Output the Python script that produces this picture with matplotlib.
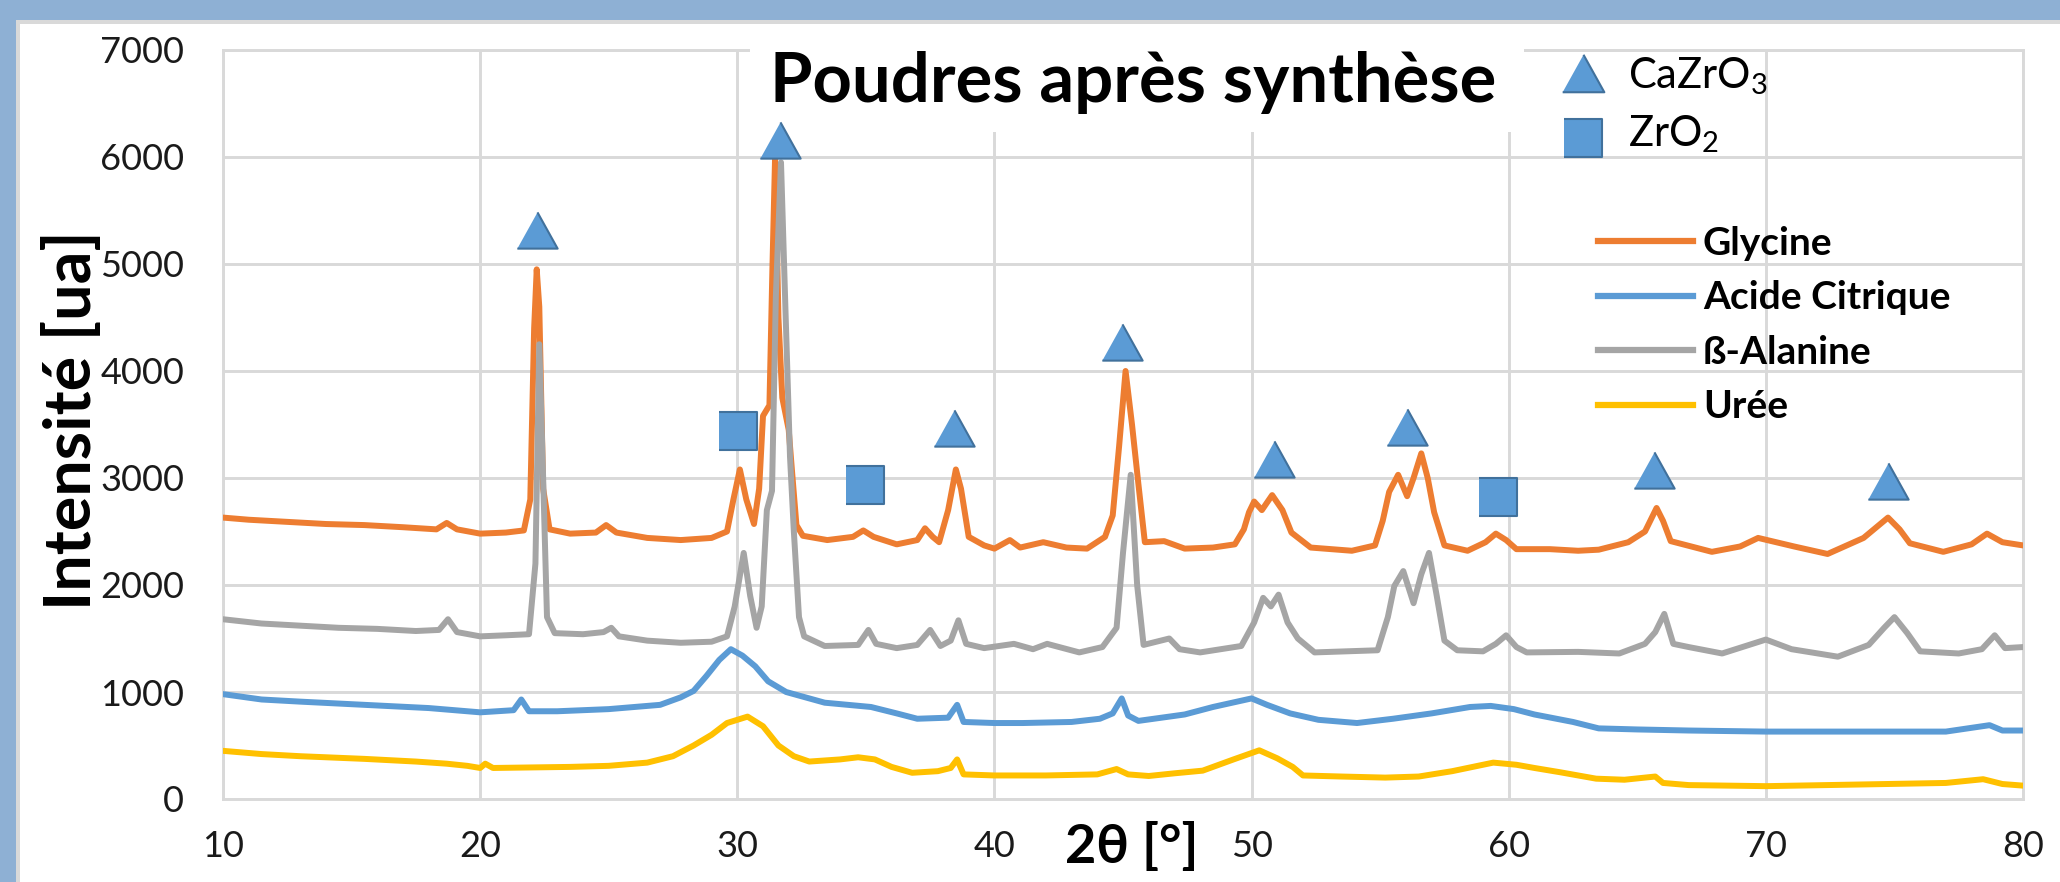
import matplotlib
matplotlib.use("Agg")
import matplotlib.pyplot as plt
from matplotlib.patches import Rectangle

plt.rcParams['font.family'] = ['Lato', 'DejaVu Sans']
plt.rcParams['mathtext.fontset'] = 'custom'
plt.rcParams['mathtext.rm'] = 'Lato'
plt.rcParams['mathtext.it'] = 'Lato:italic'
plt.rcParams['mathtext.bf'] = 'Lato:bold'

# ---------------- data ----------------
glycine_x = [10.0, 11.0, 12.5, 14.0, 15.5, 17.0, 18.3, 18.7, 19.1, 20.0, 21.0, 21.7, 21.95, 22.1, 22.2,
             22.3, 22.45, 22.7, 23.5, 24.5, 24.9, 25.3, 26.5, 27.8, 29.0, 29.6, 29.85, 30.1, 30.35,
             30.65, 30.85, 31.0, 31.25, 31.37, 31.47, 31.6, 31.75, 32.0, 32.15, 32.3, 32.55, 33.5,
             34.5, 34.9, 35.3, 36.2, 37.0, 37.3, 37.6, 37.85, 38.2, 38.5, 38.7, 39.0, 39.6, 40.0,
             40.6, 41.0, 41.9, 42.8, 43.6, 44.3, 44.6, 44.85, 45.1, 45.35, 45.6, 45.85, 46.6, 47.4,
             48.5, 49.35, 49.7, 49.9, 50.1, 50.4, 50.8, 51.2, 51.55, 52.3, 53.9, 54.8, 55.1, 55.35,
             55.7, 56.05, 56.3, 56.6, 56.85, 57.1, 57.5, 58.4, 59.1, 59.5, 59.9, 60.3, 61.6, 62.7,
             63.5, 64.65, 65.3, 65.75, 66.0, 66.3, 67.9, 69.0, 69.7, 71.1, 72.4, 73.8, 74.4, 74.75,
             75.2, 75.6, 76.9, 78.0, 78.6, 79.2, 80.0]
glycine_y = [2630, 2610, 2590, 2570, 2560, 2540, 2520, 2580, 2520, 2480, 2490, 2510, 2800, 4400, 4950,
             4600, 2900, 2520, 2480, 2490, 2560, 2490, 2440, 2420, 2440, 2500, 2800, 3080, 2800,
             2570, 2900, 3580, 3680, 5000, 6000, 4500, 3750, 3450, 3000, 2560, 2460, 2420,
             2450, 2510, 2450, 2380, 2420, 2530, 2450, 2400, 2700, 3080, 2900, 2450, 2370, 2340,
             2420, 2350, 2400, 2350, 2340, 2450, 2650, 3300, 4000, 3500, 2940, 2400, 2410, 2340,
             2350, 2380, 2520, 2680, 2780, 2700, 2840, 2700, 2490, 2350, 2320, 2370, 2600, 2870,
             3030, 2830, 3000, 3230, 3000, 2680, 2370, 2320, 2400, 2480, 2420, 2335, 2335, 2320,
             2330, 2400, 2500, 2720, 2600, 2410, 2310, 2360, 2440, 2360, 2290, 2440, 2560, 2630,
             2520, 2390, 2310, 2380, 2480, 2400, 2370]

citrique_x = [10.0, 11.5, 13.0, 15.5, 18.0, 20.0, 21.3, 21.6, 21.9, 23.0, 25.0, 27.0, 27.8, 28.3, 28.8,
              29.3, 29.75, 30.2, 30.7, 31.2, 31.9, 33.4, 35.2, 36.2, 37.0, 38.2, 38.55, 38.8, 40.0,
              41.1, 43.0, 44.1, 44.6, 44.95, 45.2, 45.6, 47.4, 48.5, 50.0, 50.6, 51.5, 52.6, 54.1,
              55.5, 57.0, 58.5, 59.3, 60.2, 61.0, 62.5, 63.5, 65.0, 67.0, 70.0, 74.0, 77.0, 78.7,
              79.2, 80.0]
citrique_y = [980, 930, 910, 880, 850, 810, 830, 930, 820, 820, 840, 880, 950, 1010, 1150,
              1300, 1400, 1340, 1240, 1100, 1000, 900, 860, 800, 750, 760, 880, 720, 710,
              710, 720, 750, 800, 940, 780, 730, 790, 860, 940, 880, 800, 740, 710,
              750, 800, 860, 870, 840, 790, 720, 660, 650, 640, 630, 630, 630, 690,
              640, 640]

alanine_x = [10.0, 11.5, 13.0, 14.5, 16.0, 17.5, 18.4, 18.75, 19.1, 20.0, 21.0, 21.9, 22.15, 22.3,
             22.45, 22.6, 22.9, 24.0, 24.8, 25.1, 25.4, 26.5, 27.8, 29.0, 29.6, 29.9, 30.25, 30.5,
             30.75, 30.95, 31.15, 31.35, 31.5, 31.7, 31.87, 32.05, 32.2, 32.4, 32.6, 33.4, 34.7,
             35.1, 35.4, 36.2, 37.0, 37.5, 37.9, 38.3, 38.6, 38.9, 39.6, 40.76, 41.5, 42.05, 43.3,
             44.2, 44.75, 45.0, 45.3, 45.55, 45.8, 46.8, 47.2, 48.0, 49.6, 50.1, 50.45, 50.75, 51.05,
             51.4, 51.8, 52.45, 54.9, 55.3, 55.55, 55.9, 56.3, 56.6, 56.9, 57.2, 57.5, 58.0, 59.0,
             59.5, 59.9, 60.3, 60.7, 62.7, 64.3, 65.3, 65.7, 66.05, 66.4, 67.0, 68.3, 70.0, 71.0,
             72.8, 74.0, 74.6, 75.0, 75.5, 76.0, 77.5, 78.4, 78.9, 79.3, 80.0]
alanine_y = [1680, 1640, 1620, 1600, 1590, 1570, 1580, 1680, 1560, 1520, 1530, 1540, 2200, 4250,
             3000, 1700, 1550, 1540, 1560, 1600, 1520, 1480, 1460, 1470, 1520, 1800, 2300, 1900,
             1600, 1800, 2700, 2880, 4700, 5950, 4600, 3200, 2500, 1700, 1520, 1430, 1440,
             1580, 1450, 1410, 1440, 1580, 1430, 1480, 1670, 1450, 1410, 1450, 1400, 1450, 1370,
             1420, 1600, 2300, 3030, 2000, 1440, 1500, 1400, 1370, 1430, 1650, 1880, 1800, 1910,
             1650, 1500, 1370, 1390, 1700, 1990, 2130, 1830, 2100, 2300, 1900, 1480, 1390, 1380,
             1450, 1530, 1420, 1370, 1375, 1360, 1450, 1560, 1730, 1450, 1420, 1360, 1490, 1400,
             1330, 1440, 1600, 1700, 1550, 1380, 1360, 1400, 1530, 1410, 1420]

uree_x = [10.0, 11.5, 13.0, 15.5, 17.5, 18.7, 19.5, 20.0, 20.2, 20.5, 22.0, 23.5, 25.0, 26.5, 27.5,
          28.3, 29.0, 29.6, 30.4, 31.0, 31.6, 32.2, 32.8, 34.0, 34.7, 35.35, 36.0, 36.8, 37.8,
          38.3, 38.55, 38.8, 40.0, 42.0, 44.0, 44.75, 45.2, 46.0, 47.0, 48.1, 49.3, 50.3, 51.0,
          51.6, 52.0, 53.5, 55.2, 56.5, 57.8, 59.4, 60.3, 61.0, 62.0, 63.4, 64.5, 65.7, 66.0,
          67.0, 70.0, 74.0, 77.0, 78.45, 79.2, 80.0]
uree_y = [450, 420, 400, 375, 350, 330, 310, 290, 330, 290, 295, 300, 310, 340, 400,
          500, 600, 710, 770, 680, 500, 400, 350, 370, 390, 370, 300, 245, 260,
          290, 370, 230, 220, 220, 230, 280, 230, 215, 240, 265, 370, 455, 380,
          300, 220, 210, 200, 210, 260, 340, 320, 290, 250, 190, 180, 210, 150,
          130, 120, 137, 150, 185, 140, 125]

series_names = ['Glycine', 'Acide Citrique', 'ß-Alanine', 'Urée']
series_colors = ['#ED7D31', '#5B9BD5', '#A5A5A5', '#FFC000']

# phase markers (2theta, intensity where the symbol sits)
cazro3_x = [22.23, 31.68, 38.44, 44.97, 50.89, 56.04, 65.65, 74.76]
cazro3_y = [5315, 6160, 3470, 4267, 3174, 3472, 3079, 2971]
zro2_x = [30.04, 34.97, 59.57]
zro2_y = [3441, 2932, 2820]

x_ticks = [10, 20, 30, 40, 50, 60, 70, 80]
y_ticks = [0, 1000, 2000, 3000, 4000, 5000, 6000, 7000]

# ---------------- figure ----------------
W, H = 2060, 882
fig = plt.figure(figsize=(W / 100, H / 100), dpi=100)
fig.patch.set_facecolor('white')

# slide frame (blue band top/left + light grey chart border)
frame_blue = '#8EB0D4'
fig.patches.append(Rectangle((0, 1 - 20 / H), 1, 20 / H, transform=fig.transFigure,
                             facecolor=frame_blue, edgecolor='none', zorder=-5))
fig.patches.append(Rectangle((0, 0), 16 / W, 1, transform=fig.transFigure,
                             facecolor=frame_blue, edgecolor='none', zorder=-5))
fig.patches.append(Rectangle((16 / W, 0), 4 / W, 1 - 20 / H, transform=fig.transFigure,
                             facecolor='#D9D9D9', edgecolor='none', zorder=-4))
fig.patches.append(Rectangle((16 / W, 1 - 24 / H), 1, 4 / H, transform=fig.transFigure,
                             facecolor='#D9D9D9', edgecolor='none', zorder=-4))

L, R, T, B = 223, 2023, 50, 799
ax = fig.add_axes([L / W, 1 - B / H, (R - L) / W, (B - T) / H])
ax.set_xlim(10, 80)
ax.set_ylim(0, 7000)
ax.set_xticks(x_ticks)
ax.set_yticks(y_ticks)
ax.set_axisbelow(True)
grid_c = '#D9D9D9'
ax.grid(True, color=grid_c, linewidth=2.1)
for s in ax.spines.values():
    s.set_color(grid_c)
    s.set_linewidth(2.1)
    s.set_zorder(0.6)
ax.tick_params(length=0, labelsize=26, labelcolor='#1a1a1a')
ax.tick_params(axis='x', pad=22)
ax.tick_params(axis='y', pad=28)


def axfrac(px, py):
    return (px - L) / (R - L), (B - py) / (B - T)


# white title box over the plot area (stops below the slide frame)
bx0, by0 = axfrac(750, 132)
bx1, by1 = axfrac(1524, 30)
ax.add_patch(Rectangle((bx0, by0), bx1 - bx0, by1 - by0, transform=ax.transAxes,
                       facecolor='white', edgecolor='none', zorder=1, clip_on=False))

xs = [glycine_x, citrique_x, alanine_x, uree_x]
ys = [glycine_y, citrique_y, alanine_y, uree_y]
handles = []
for x, y, name, c in zip(xs, ys, series_names, series_colors):
    ln, = ax.plot(x, y, color=c, linewidth=4.3, solid_joinstyle='round', zorder=2, label=name)
    handles.append(ln)

tri = [(-1, -0.9), (1, -0.9), (0, 0.9)]
sq = [(-1, -1), (1, -1), (1, 1), (-1, 1)]
mk_face, mk_edge = '#5B9BD5', '#41719C'
ax.plot(cazro3_x, cazro3_y, linestyle='none', marker=tri, markersize=29,
        markerfacecolor=mk_face, markeredgecolor=mk_edge, markeredgewidth=1.5, zorder=4, clip_on=False)
ax.plot(zro2_x, zro2_y, linestyle='none', marker=sq, markersize=28,
        markerfacecolor=mk_face, markeredgecolor=mk_edge, markeredgewidth=1.5, zorder=4, clip_on=False)

# phase key (top right)
ax.plot(*axfrac(1583, 73), transform=ax.transAxes, marker=tri, markersize=30, linestyle='none',
        markerfacecolor=mk_face, markeredgecolor=mk_edge, markeredgewidth=1.5, zorder=4, clip_on=False)
ax.plot(*axfrac(1583, 138), transform=ax.transAxes, marker=sq, markersize=28, linestyle='none',
        markerfacecolor=mk_face, markeredgecolor=mk_edge, markeredgewidth=1.5, zorder=4, clip_on=False)
ax.text(*axfrac(1628, 88), r'CaZrO$_3$', transform=ax.transAxes, fontsize=30,
        color='black', va='baseline', ha='left', zorder=5)
ax.text(*axfrac(1628, 146), r'ZrO$_2$', transform=ax.transAxes, fontsize=30,
        color='black', va='baseline', ha='left', zorder=5)

# series legend
leg = ax.legend(handles=handles, loc='upper left', bbox_to_anchor=axfrac(1598, 226),
                frameon=False, prop={'weight': 'bold', 'size': 28}, handlelength=2.45,
                handletextpad=0.25, labelspacing=0.5, borderpad=0, borderaxespad=0)
for t in leg.get_texts():
    t.set_color('black')
for lh in leg.get_lines():
    lh.set_linewidth(4.5)

# titles
fig.text(1133 / W, 1 - 102 / H, 'Poudres après synthèse', fontsize=49.5, fontweight='bold',
         ha='center', va='baseline', color='black')
fig.text(72 / W, 1 - 420 / H, 'Intensité [ua]', fontsize=46.5, fontweight='bold',
         rotation=90, ha='center', va='center', color='black')
fig.text(1132 / W, 1 - 847 / H, '2θ [°]', fontsize=39, fontweight='bold',
         ha='center', va='center', color='black')

fig.savefig('out.png', dpi=100, facecolor='white')
